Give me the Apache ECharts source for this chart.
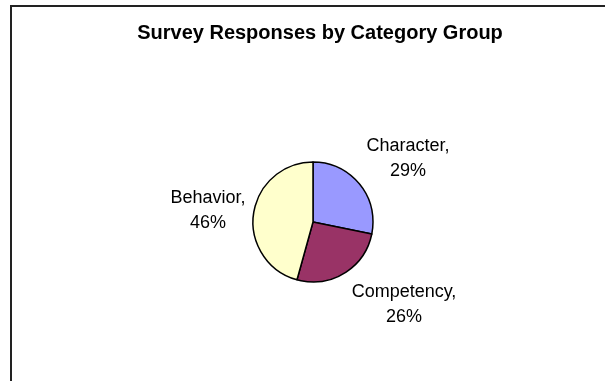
<!DOCTYPE html>
<html>
<head>
<meta charset="utf-8">
<script src="https://cdn.jsdelivr.net/npm/echarts@6/dist/echarts.min.js"></script>
<style>
    html, body { margin: 0; padding: 0; background: #fff; }
    #chart { width: 605px; height: 381px; }
</style>
</head>
<body>
<div id="chart"></div>
<script>
const categories = ['Character', 'Competency', 'Behavior'];
const shares = [28.2, 26.1, 45.7];
const percentLabels = ['29%', '26%', '46%'];

const sliceColors = ['#9999FF', '#993366', '#FFFFCC'];
// label centres, placed like the Excel data labels
const labelSpots = [[408, 159], [404, 305], [208, 211]];

const chart = echarts.init(document.getElementById('chart'));

chart.setOption({
    backgroundColor: '#fff',
    animation: false,
    textStyle: { fontFamily: 'Liberation Sans, Arial, sans-serif' },
    title: {
        text: 'Survey Responses by Category Group',
        left: 315,
        top: 18,
        textAlign: 'center',
        textStyle: { fontSize: 20, fontWeight: 'bold', color: '#000' }
    },
    graphic: [{
        type: 'rect',
        shape: { x: 11, y: 6, width: 800, height: 600 },
        style: { fill: 'none', stroke: '#222', lineWidth: 2 }
    }],
    series: [{
        type: 'pie',
        center: [313, 222],
        radius: 60,
        startAngle: 90,
        clockwise: true,
        data: categories.map((name, i) => ({
            name,
            value: shares[i],
            itemStyle: { color: sliceColors[i] }
        })),
        itemStyle: { borderColor: '#000', borderWidth: 1.5 },
        label: {
            show: true,
            position: 'outside',
            color: '#000',
            fontSize: 18,
            lineHeight: 25,
            align: 'center',
            formatter: p => `${p.name},\n${percentLabels[p.dataIndex]}`
        },
        labelLine: { show: false },
        labelLayout: p => ({
            x: labelSpots[p.dataIndex][0],
            y: labelSpots[p.dataIndex][1],
            align: 'center',
            verticalAlign: 'middle'
        }),
        emphasis: { disabled: true }
    }]
});
</script>
</body>
</html>
